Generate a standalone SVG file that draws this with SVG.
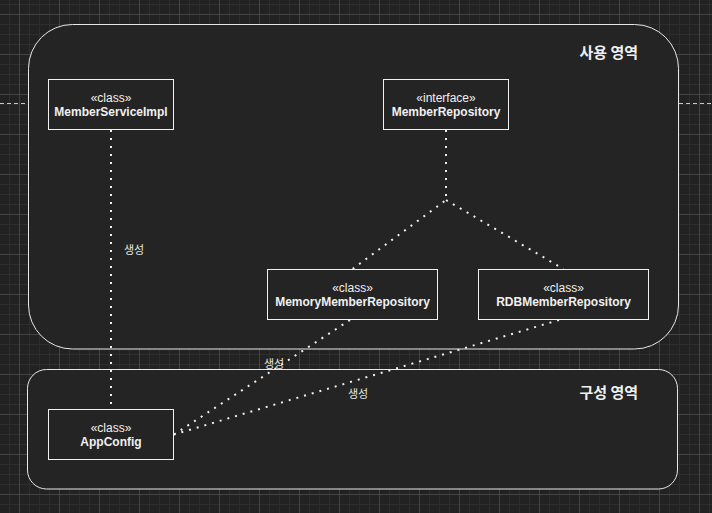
<svg xmlns="http://www.w3.org/2000/svg" width="712" height="513" viewBox="0 0 712 513">
  <style>
    .area { fill: #242424; stroke: #e8e8e8; stroke-width: 1; }
    .box { fill: #242424; stroke: #f0f0f0; stroke-width: 1; }
    .st { font-family: "Liberation Sans", Arial, "Noto Sans CJK KR", sans-serif; font-size: 12px; fill: #f0f0f0; text-anchor: middle; }
    .nm { font-family: "Liberation Sans", Arial, "Noto Sans CJK KR", sans-serif; font-size: 12px; font-weight: bold; fill: #f0f0f0; text-anchor: middle; }
    .title { font-family: "Noto Sans CJK KR", "Liberation Sans", sans-serif; font-size: 15px; font-weight: bold; fill: #f0f0f0; text-anchor: end; }
    .lbl { font-family: "Noto Sans CJK KR", "Liberation Sans", sans-serif; font-size: 11px; fill: #e6e6e6; text-anchor: middle; }
    .dot { fill: none; stroke: #f0f0f0; stroke-width: 2; stroke-dasharray: 2 6; }
  </style>
  <defs>
    <pattern id="minor" patternUnits="userSpaceOnUse" x="9" y="4" width="10" height="10">
      <rect x="0" y="0" width="1" height="10" fill="#2d2d2d"/>
      <rect x="0" y="0" width="10" height="1" fill="#2d2d2d"/>
    </pattern>
    <pattern id="major" patternUnits="userSpaceOnUse" x="19" y="14" width="40" height="40">
      <rect x="0" y="0" width="1" height="40" fill="#434343"/>
      <rect x="0" y="0" width="40" height="1" fill="#434343"/>
    </pattern>
  </defs>
  <g id="background">
    <rect x="0" y="0" width="712" height="513" fill="#222222"/>
    <rect x="0" y="0" width="712" height="513" fill="url(#minor)"/>
    <rect x="0" y="0" width="712" height="513" fill="url(#major)"/>
    <line x1="0" y1="103.5" x2="712" y2="103.5" stroke="#c8c8c8" stroke-width="1" stroke-dasharray="4 3"/>
  </g>
  <g id="usage-area">
    <rect class="area" x="28.5" y="24.5" width="650" height="324.5" rx="44" ry="44"/>
    <text class="title" x="638" y="58">사용 영역</text>
  </g>
  <g id="config-area">
    <rect class="area" x="27.5" y="369.5" width="650" height="119.5" rx="19" ry="19"/>
    <text class="title" x="638" y="398">구성 영역</text>
  </g>
  <g id="connectors">
    <line class="dot" x1="111" y1="130" x2="111" y2="409"/>
    <polyline class="dot" points="446,130 446,200 352.5,269"/>
    <polyline class="dot" points="446,200 563.5,269"/>
    <line class="dot" x1="350" y1="320" x2="174" y2="434.5"/>
    <line class="dot" x1="559" y1="320" x2="174" y2="434.5"/>
    <text class="lbl" x="134" y="253.5">생성</text>
    <text class="lbl" x="274" y="367.5">생성</text>
    <text class="lbl" x="358" y="397.5">생성</text>
  </g>
  <g id="MemberServiceImpl">
    <rect class="box" x="48.5" y="79.5" width="125" height="50"/>
    <text class="st" x="111" y="102">«class»</text>
    <text class="nm" x="111" y="116">MemberServiceImpl</text>
  </g>
  <g id="MemberRepository">
    <rect class="box" x="383.5" y="79.5" width="125" height="50"/>
    <text class="st" x="446" y="102">«interface»</text>
    <text class="nm" x="446" y="116">MemberRepository</text>
  </g>
  <g id="MemoryMemberRepository">
    <rect class="box" x="267.5" y="269.5" width="170" height="50"/>
    <text class="st" x="352.5" y="292">«class»</text>
    <text class="nm" x="352.5" y="306">MemoryMemberRepository</text>
  </g>
  <g id="RDBMemberRepository">
    <rect class="box" x="478.5" y="269.5" width="170" height="50"/>
    <text class="st" x="563.5" y="292">«class»</text>
    <text class="nm" x="563.5" y="306">RDBMemberRepository</text>
  </g>
  <g id="AppConfig">
    <rect class="box" x="48.5" y="409.5" width="125" height="50"/>
    <text class="st" x="111" y="432">«class»</text>
    <text class="nm" x="111" y="446">AppConfig</text>
  </g>
</svg>
